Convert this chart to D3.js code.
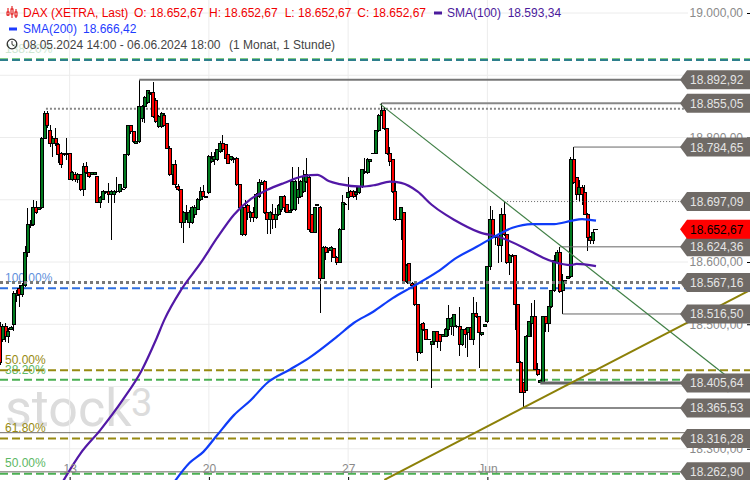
<!DOCTYPE html>
<html><head><meta charset="utf-8">
<script src="https://cdn.jsdelivr.net/npm/d3@7/dist/d3.min.js"></script>
<style>html,body{margin:0;padding:0;background:#fff}svg{display:block;font-family:"Liberation Sans",Arial,sans-serif}</style>
</head><body><div id="c"></div>
<script>
const opens=[18497,18475,18497,18481,18492,18499,18546,18558,18547,18563,18615,18661,18660,18688,18685,18687,18799,18839,18812,18790,18799,18788,18774,18772,18772,18774,18733,18741,18733,18740,18716,18754,18743,18741,18741,18737,18696,18701,18711,18713,18708,18708,18713,18713,18716,18719,18772,18819,18809,18791,18793,18831,18849,18857,18870,18872,18860,18817,18817,18836,18822,18783,18740,18756,18722,18716,18663,18674,18663,18663,18676,18685,18700,18713,18703,18711,18762,18764,18764,18777,18791,18788,18772,18764,18767,18767,18724,18644,18687,18690,18671,18679,18671,18705,18725,18730,18679,18668,18677,18669,18677,18685,18706,18692,18680,18684,18684,18703,18705,18713,18729,18735,18676,18648,18690,18688,18574,18624,18618,18619,18621,18608,18600,18653,18692,18703,18713,18713,18708,18711,18721,18746,18743,18761,18774,18775,18811,18836,18844,18814,18774,18764,18713,18668,18668,18679,18568,18597,18566,18563,18531,18454,18502,18491,18475,18467,18472,18488,18483,18481,18481,18492,18496,18496,18496,18496,18467,18492,18486,18494,18476,18517,18512,18483,18497,18504,18592,18668,18639,18640,18627,18677,18644,18600,18610,18610,18531,18439,18406,18394,18481,18502,18512,18428,18407,18407,18512,18502,18528,18555,18600,18616,18554,18568,18574,18576,18764,18735,18709,18719,18711,18677,18640,18634,18652.67];
const highs=[18504,18501,18502,18494,18497,18554,18555,18563,18566,18626,18687,18668,18700,18698,18688,18801,18843,18843,18820,18803,18815,18791,18777,18775,18799,18775,18746,18745,18743,18741,18759,18761,18745,18745,18745,18738,18706,18716,18714,18727,18716,18716,18737,18725,18719,18774,18820,18820,18811,18794,18892.92,18852,18867,18876,18873,18889,18864,18836,18841,18839,18823,18786,18758,18764,18725,18717,18682,18692,18684,18690,18692,18703,18721,18724,18705,18772,18777,18777,18782,18794,18804,18790,18774,18770,18769,18769,18725,18690,18700,18693,18682,18688,18711,18733,18732,18732,18680,18682,18693,18687,18693,18706,18708,18693,18684,18753,18732,18753,18732,18748,18767,18738,18677,18688,18692,18690,18626,18626,18623,18626,18623,18610,18655,18708,18695,18737,18716,18716,18721,18722,18750,18767,18767,18766,18775,18812,18838,18855.05,18849,18815,18785,18766,18730,18669,18688,18680,18597,18598,18568,18565,18533,18501,18504,18492,18476,18473,18489,18489,18484,18484,18494,18531,18512,18517,18499,18528,18492,18494,18496,18496,18544,18536,18513,18488,18499,18593,18690,18684,18644,18642,18687,18697.09,18645,18613,18613,18611,18533,18441,18407,18483,18505,18534,18539,18438,18409,18513,18513,18529,18555,18611,18619,18624.36,18581,18571,18576,18769,18784.65,18737,18732,18724,18724,18679,18642,18653,18652.67];
const lows=[18435,18472,18472,18470,18491,18489,18536,18528,18544,18560,18608,18655,18658,18677,18684,18685,18798,18815,18785,18769,18786,18759,18751,18770,18764,18732,18730,18729,18727,18714,18706,18741,18735,18740,18740,18695,18687,18700,18709,18695,18635,18695,18711,18711,18716,18717,18770,18806,18791,18790,18791,18825,18823,18854,18868,18831,18823,18815,18815,18819,18782,18738,18724,18719,18714,18655,18631,18668,18655,18661,18671,18684,18698,18705,18703,18709,18759,18756,18762,18775,18777,18766,18758,18762,18759,18722,18685,18642,18642,18668,18664,18664,18669,18703,18724,18677,18645,18645,18653,18655,18674,18680,18680,18679,18679,18682,18682,18693,18703,18711,18727,18648,18647,18647,18690,18518,18573,18603,18615,18600,18607,18595,18598,18652,18692,18684,18705,18703,18700,18709,18719,18741,18741,18761,18774,18774,18809,18835,18812,18772,18754,18711,18666,18668,18635,18566,18566,18565,18560,18529,18441,18452,18489,18475,18475,18398,18467,18462,18457,18480,18480,18481,18483,18481,18494,18449,18465,18462,18448,18475,18467,18510,18430,18481,18497,18502,18587,18639,18627,18598,18600,18642,18597,18579,18608,18491,18438,18390,18367,18393,18480,18480,18427,18417,18406,18406,18488,18488,18526,18552,18598,18550,18516.5,18568,18574,18574,18725,18700,18696,18692,18676,18618,18629,18629,18652.67];
const closes=[18438,18497,18481,18489,18494,18550,18550,18547,18563,18615,18660,18658,18688,18679,18687,18799,18839,18819,18790,18799,18790,18772,18756,18774,18774,18733,18743,18733,18740,18716,18753,18743,18737,18743,18743,18696,18703,18713,18713,18709,18714,18714,18714,18724,18717,18772,18819,18809,18793,18793,18849,18849,18864,18875,18872,18833,18825,18833,18839,18820,18783,18740,18756,18724,18716,18663,18679,18676,18679,18687,18688,18700,18713,18706,18705,18769,18767,18769,18780,18791,18780,18767,18759,18769,18764,18724,18687,18687,18644,18679,18679,18671,18708,18727,18727,18679,18668,18679,18669,18677,18690,18705,18687,18680,18682,18729,18729,18717,18729,18737,18740,18652,18648,18687,18692,18574,18624,18616,18621,18623,18608,18600,18653,18695,18693,18711,18706,18706,18711,18721,18748,18743,18764,18764,18775,18811,18836,18844,18814,18774,18762,18713,18668,18669,18687,18568,18595,18566,18562,18531,18454,18499,18491,18476,18476,18472,18488,18472,18472,18483,18492,18509,18510,18515,18497,18467,18491,18483,18494,18476,18517,18512,18486,18486,18499,18592,18668,18640,18642,18627,18676,18644,18600,18611,18611,18531,18439,18391,18391,18481,18504,18512,18428,18419,18409,18512,18502,18528,18554,18603,18616,18552,18570,18571,18576,18764,18727,18709,18719,18709,18677,18640,18634,18647,18652.67];

const sma100Bars=[22,29,36,44,51,56,59,65,72,78,84,90,96,102,109,114,118,122,130,135,140,144,150,155,160,163,172,180,188,191,195,199,205,207,214];
const sma100Vals=[18243,18293,18330,18378,18427,18475,18507,18555,18598,18639,18676,18701,18716,18727,18738,18740,18730,18725,18721,18724,18729,18727,18713,18692,18676,18668,18648,18639,18623,18616,18607,18600,18595,18597,18593.34];
const sma200Bars=[62,68,73,78,84,90,96,104,111,121,127,134,141,148,157,164,171,178,184,191,199,205,209,214];
const sma200Vals=[18243,18277,18295,18322,18354,18378,18406,18427,18446,18480,18502,18520,18542,18560,18584,18607,18624,18642,18655,18661,18661,18666,18669,18666.42];

const priceTicks=[19000,18900,18800,18700,18600,18500,18400,18300];
const dateTickBars=[25,75,125,175];
const dateTickLabels=["13","20","27","Jun"];

const fibLevels=[18926,18924.5,18558,18426,18411,18316.28,18260];
const fibColors=["#82cc88","#2d7f8c","#2f6fe0","#978a12","#4bb053","#978a12","#4bb053"];
const fibLabels=["138.20%","100.00%","50.00%","38.20%","61.80%","50.00%"];
const fibLabelLevels=[18926,18567.16,18426,18411,18325.8,18262.9];
const fibLabelColors=["#cfe6d2","#5f90dc","#978a12","#5cb865","#978a12","#5cb865"];
const plainLevels=[18325.8,18262.9];

const tagValues=[18892.92,18855.05,18784.65,18697.09,18624.36,18567.16,18516.5,18405.64,18365.53,18316.28,18262.9];
const tagStartBars=[50,137,206,181,201,0,202,194,188,null,null];
const tagWidths=[2,2,1,1,1,3,1,3,2,0,0];
const tagStroke=["#777","#888","#666","#666","#666","#777","#666","#666","#8a8a8a","#666","#666"];
const tagDash=[null,null,null,"1,2",null,"3,3",null,null,null,null,null];
const dottedExtra=18846;
const lastPrice=18652.67;
const trendBars=[[136.4,260.3],[138,269.3]];
const trendVals=[[18854,18419],[18250,18555]];
const trendColors=["#3f7f45","#8c8008"];
const trendWidths=[1.2,2];

const W=750,H=480;
const x=d3.scaleLinear().domain([0,214]).range([0,596]);
const y=d3.scaleLinear().domain([19000,18300]).range([13,448.75]);
const de=d3.formatLocale({decimal:",",thousands:".",grouping:[3],currency:["","€"]});
const fmt=de.format(",.2f");
const svg=d3.select("#c").append("svg").attr("width",W).attr("height",H).attr("viewBox",`0 0 ${W} ${H}`);

// watermark
svg.append("text").attr("x",5).attr("y",426).attr("font-family","Roboto").attr("font-size",52).attr("fill","#dcdcdc").text("stock");
svg.append("text").attr("x",131).attr("y",416).attr("font-family","Roboto").attr("font-size",38).attr("fill","#dcdcdc").text("3");

// grid
svg.append("g").selectAll("line").data(priceTicks).join("line").attr("x1",0).attr("x2",688).attr("y1",d=>y(d)).attr("y2",d=>y(d)).attr("stroke","#ececec");
svg.append("g").selectAll("line").data(dateTickBars).join("line").attr("x1",d=>x(d)).attr("x2",d=>x(d)).attr("y1",0).attr("y2",476).attr("stroke","#ececec");

// fib labels under lines
svg.append("g").attr("font-size",12).selectAll("text").data(fibLabels).join("text")
 .attr("x",5).attr("y",(d,i)=>y(fibLabelLevels[i])-(i==0?6:i==4?1:i==5?5:i==1?0:6)).attr("fill",(d,i)=>fibLabelColors[i]).text(d=>d);

// fib lines
svg.append("g").selectAll("line").data(fibLevels).join("line").attr("x1",0).attr("x2",W).attr("y1",d=>y(d)).attr("y2",d=>y(d))
 .attr("stroke",(d,i)=>fibColors[i]).attr("stroke-width",2).attr("stroke-dasharray","8,4");
svg.append("g").selectAll("line").data(plainLevels).join("line").attr("x1",0).attr("x2",W).attr("y1",d=>y(d)).attr("y2",d=>y(d)).attr("stroke","#6e6a66").attr("stroke-width",1);
svg.append("line").attr("x1",x(16.5)).attr("x2",684).attr("y1",y(dottedExtra)).attr("y2",y(dottedExtra)).attr("stroke","#888").attr("stroke-width",2).attr("stroke-dasharray","2,2");

// candles
const idx=d3.range(opens.length);
const cg=svg.append("g").attr("shape-rendering","crispEdges");
cg.selectAll("line").data(idx).join("line").attr("x1",i=>x(i)).attr("x2",i=>x(i)).attr("y1",i=>y(highs[i])).attr("y2",i=>y(lows[i])).attr("stroke","#000").attr("stroke-width",1);
cg.selectAll("rect").data(idx).join("rect")
 .attr("x",i=>x(i)-1.5).attr("width",3)
 .attr("y",i=>y(Math.max(opens[i],closes[i])))
 .attr("height",i=>Math.max(0.1,Math.abs(y(opens[i])-y(closes[i]))))
 .attr("fill",i=>closes[i]>=opens[i]?"#007a1e":"#ff0000").attr("stroke","#000").attr("stroke-width",1);

// tag lines
svg.append("g").selectAll("line").data(tagValues.filter((d,i)=>tagStartBars[i]!==null)).join("line")
 .attr("x1",(d,i)=>x(tagStartBars[i])).attr("x2",684).attr("y1",d=>y(d)).attr("y2",d=>y(d))
 .attr("stroke",(d,i)=>tagStroke[i]).attr("stroke-width",(d,i)=>tagWidths[i]).attr("stroke-dasharray",(d,i)=>tagDash[i]);

// trend lines
svg.append("g").selectAll("line").data(trendBars).join("line")
 .attr("x1",d=>x(d[0])).attr("x2",d=>x(d[1])).attr("y1",(d,i)=>y(trendVals[i][0])).attr("y2",(d,i)=>y(trendVals[i][1]))
 .attr("stroke",(d,i)=>trendColors[i]).attr("stroke-width",(d,i)=>trendWidths[i]);

// SMA lines
const ln=(bars,vals)=>d3.line().x((d,i)=>x(bars[i])).y(d=>y(d)).curve(d3.curveMonotoneX)(vals);
svg.append("path").attr("d",ln(sma100Bars,sma100Vals)).attr("fill","none").attr("stroke","#5218a6").attr("stroke-width",2.2);
svg.append("path").attr("d",ln(sma200Bars,sma200Vals)).attr("fill","none").attr("stroke","#0f3cf8").attr("stroke-width",2.2);

// axes
const yA=svg.append("g").attr("transform","translate(750,0)").call(d3.axisLeft(y).tickValues(priceTicks).tickFormat(fmt).tickSize(3).tickPadding(4));
yA.select(".domain").remove();
yA.selectAll("text").attr("fill","#8a8a8a").attr("font-size",12).attr("font-family","Liberation Sans");
yA.selectAll("line").attr("stroke","#000");
const xA=svg.append("g").attr("transform","translate(0,480)").call(d3.axisBottom(x).tickValues(dateTickBars).tickFormat((d,i)=>dateTickLabels[i]).tickSize(-3));
xA.select(".domain").remove();
xA.selectAll("line").attr("stroke","#000");
xA.selectAll("text").attr("fill","#8a8a8a").attr("font-size",12).attr("font-family","Liberation Sans").attr("y",-7).attr("dy",0);

// tags
const tag=svg.append("g").selectAll("g").data(tagValues.concat([lastPrice])).join("g").attr("transform",d=>`translate(0,${y(d)})`);
tag.append("path").attr("d","M680,0L687,-9.5H750V9.5H687Z").attr("fill",d=>d===lastPrice?"#ff0000":"#6f6a66");
tag.append("text").attr("x",690).attr("y",4.5).attr("font-size",12).attr("fill",d=>d===lastPrice?"#000":"#e4e4e4").text(d=>fmt(d));

// header
const head=svg.append("g").attr("font-size",12);
const row1=[[23,"DAX (XETRA, Last)","#f00000"],[134,"O: 18.652,67","#f00000"],[209,"H: 18.652,67","#f00000"],[284.7,"L: 18.652,67","#f00000"],[357.3,"C: 18.652,67","#f00000"],[447,"SMA(100)","#4b1a9c"],[507.7,"18.593,34","#4b1a9c"]];
head.selectAll(".r1").data(row1).join("text").attr("class","r1").attr("x",d=>d[0]).attr("y",17).attr("fill",d=>d[2]).text(d=>d[1]);
head.append("text").attr("x",23).attr("y",33).attr("fill","#1e3cff").text("SMA(200)");
head.append("text").attr("x",83).attr("y",33).attr("fill","#1e3cff").text("18.666,42");
head.append("text").attr("x",23).attr("y",49).attr("fill","#444").text("08.05.2024 14:00 - 06.06.2024 18:00");
head.append("text").attr("x",229).attr("y",49).attr("fill","#444").text("(1 Monat, 1 Stunde)");
head.append("rect").attr("x",9).attr("y",27.5).attr("width",8).attr("height",3).attr("fill","#1e3cff");
head.append("rect").attr("x",434).attr("y",11.5).attr("width",8).attr("height",3).attr("fill","#4b1a9c");
const icon=head.append("g").attr("stroke","#e00000").attr("fill","#fff");
[[8,10,16,12,15],[12,8,18,9,14],[16,11,18,12,16]].forEach(c=>{
 icon.append("line").attr("x1",c[0]).attr("x2",c[0]).attr("y1",c[1]-2).attr("y2",c[2]);
 icon.append("rect").attr("x",c[0]-1).attr("y",c[3]).attr("width",2).attr("height",c[4]-c[3]);
});
head.append("circle").attr("cx",12).attr("cy",44).attr("r",4.8).attr("fill","none").attr("stroke","#333").attr("stroke-width",1.3);
head.append("path").attr("d","M12,41V44.5L14.5,46").attr("fill","none").attr("stroke","#333");
</script>
</body></html>
